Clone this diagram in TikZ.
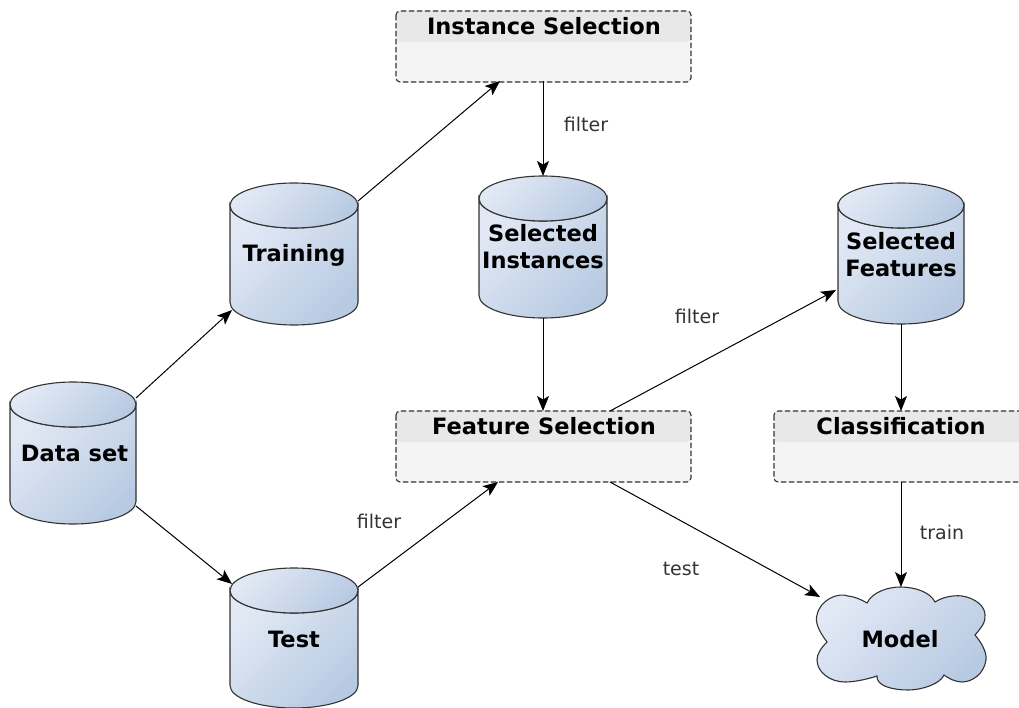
\documentclass[tikz,border=0pt]{standalone}
\usepackage{fontspec}
\setmainfont{DejaVu Sans}
\usetikzlibrary{arrows.meta}
\definecolor{cylL}{HTML}{E2E9F5}
\definecolor{cylD}{HTML}{B8CAE2}
\definecolor{edgeC}{HTML}{333333}
\tikzset{
  x=1pt,y=-1pt,
  shapefill/.style={left color=cylL,right color=cylD,shading angle=45,draw=edgeC,line width=1.1pt},
  shapetext/.style={font=\fontsize{22.5}{27}\selectfont\bfseries,align=center,inner sep=0pt},
  conn/.style={line width=1pt,draw=black,-{Stealth[length=15pt,width=12pt,inset=3.5pt]}},
  boxbody/.style={fill=black!4.5,draw=none,rounded corners=4pt},
  boxhead/.style={fill=black!9,draw=none},
  boxline/.style={draw=edgeC,line width=1.1pt,dash pattern=on 5.5pt off 2.5pt,rounded corners=4pt},
  boxtitle/.style={font=\fontsize{22.5}{27}\selectfont\bfseries,inner sep=0pt},
  edgetext/.style={font=\fontsize{19}{23}\selectfont,text=black!80,inner sep=0pt},
}
% #1 name, #2 left, #3 top, #4 right, #5 bottom, #6 text, #7 text y, #8 text x shift
\newcommand{\cylinderitem}[8]{
  \pgfmathsetmacro{\cmx}{(#2+#4)/2}
  \pgfmathsetmacro{\ery}{22.5}
  \pgfmathsetmacro{\erx}{(#4-#2)/2}
  \path[shapefill] (#2,#3+\ery) arc[start angle=180,end angle=360,x radius=\erx,y radius=-\ery] -- (#4,#5-\ery)
     arc[start angle=0,end angle=-180,x radius=\erx,y radius=-\ery] -- cycle;
  \path[shapefill] (\cmx,#3+\ery) ellipse[x radius=\erx,y radius=\ery];
  \node[shapetext] (#1) at (\cmx+#8,#7) {#6};
  \coordinate (#1-t) at (\cmx,#3);
  \coordinate (#1-b) at (\cmx,#5);
}
% #1 name, #2 left, #3 top, #4 right, #5 text, #6 text x
\newcommand{\boxitem}[6]{
  \path[boxbody] (#2,#3) rectangle (#4,#3+71);
  \path[boxhead,rounded corners=4pt] (#2,#3+31) -- (#2,#3) -- (#4,#3) -- (#4,#3+31) -- cycle;
  \path[boxline] (#2,#3) rectangle (#4,#3+71);
  \node[boxtitle] (#1) at (#6,#3+15.5) {#5};
  \coordinate (#1-n) at (#6,#3);
  \coordinate (#1-s) at (#6,#3+71);
}
\begin{document}
\begin{tikzpicture}
\useasboundingbox (0,0) rectangle (1019,708);
\cylinderitem{data}{10}{382}{136}{524}{Data set}{453}{1.5}
\cylinderitem{training}{230}{183}{358}{325}{Training}{255}{0}
\cylinderitem{test}{230}{568}{358}{708}{Test}{639}{0}
\cylinderitem{selinst}{479}{176}{607}{318}{Selected\\Instances}{247}{0}
\cylinderitem{selfeat}{838}{183}{964}{324}{Selected\\Features}{255}{0}
\boxitem{inst}{396}{11}{691}{Instance Selection}{544}
\boxitem{feat}{396}{411}{691}{Feature Selection}{544}
\boxitem{cls}{774}{411}{1028}{Classification}{901}
\path[shapefill] (827,642)
  .. controls (818,630) and (815,622) .. (817,615)
  .. controls (820,600) and (838,592) .. (848,596)
  .. controls (856,597) and (862,600) .. (867,603)
  .. controls (873,591) and (890,587) .. (900,587)
  .. controls (915,587) and (930,592) .. (935,602)
  .. controls (943,597) and (953,595) .. (962,596)
  .. controls (975,598) and (985,606) .. (985,615)
  .. controls (986,622) and (981,628) .. (975,635)
  .. controls (981,642) and (987,652) .. (986,660)
  .. controls (984,674) and (972,682) .. (962,682)
  .. controls (955,682) and (948,678) .. (944,675)
  .. controls (940,684) and (922,690) .. (908,690)
  .. controls (893,690) and (876,686) .. (877,676)
  .. controls (868,679) and (855,682) .. (845,682)
  .. controls (830,682) and (817,672) .. (817,660)
  .. controls (817,654) and (821,648) .. (827,642) -- cycle;
\node[shapetext] (model) at (900,639) {Model};
\coordinate (model-t) at (901,587);
\coordinate (model-l) at (820,597);
\coordinate (data-a) at (136,398);
\coordinate (data-c) at (136,506);
\coordinate (training-a) at (358,201);
\coordinate (training-c) at (232,310);
\coordinate (test-a) at (358,587);
\coordinate (test-c) at (232,584);
\coordinate (selfeat-c) at (836,290);
\coordinate (inst-a) at (500,81);
\coordinate (inst-b) at (543,81);
\coordinate (feat-a) at (498,482);
\coordinate (feat-t) at (543,411);
\coordinate (feat-u) at (610,411);
\coordinate (feat-d) at (610,482);
\draw[conn] (data-a) -- (training-c);
\draw[conn] (data-c) -- (test-c);
\draw[conn] (training-a) -- (inst-a);
\draw[conn] (inst-b) -- (selinst-t);
\draw[conn] (selinst-b) -- (feat-t);
\draw[conn] (test-a) -- (feat-a);
\draw[conn] (feat-u) -- (selfeat-c);
\draw[conn] (feat-d) -- (model-l);
\draw[conn] (selfeat-b) -- (cls-n);
\draw[conn] (cls-s) -- (model-t);
\node[edgetext] (l1) at (586,124) {filter};
\node[edgetext] (l2) at (697,316) {filter};
\node[edgetext] (l3) at (379,521) {filter};
\node[edgetext] (l4) at (681,569) {test};
\node[edgetext] (l5) at (942,532) {train};
\end{tikzpicture}
\end{document}
